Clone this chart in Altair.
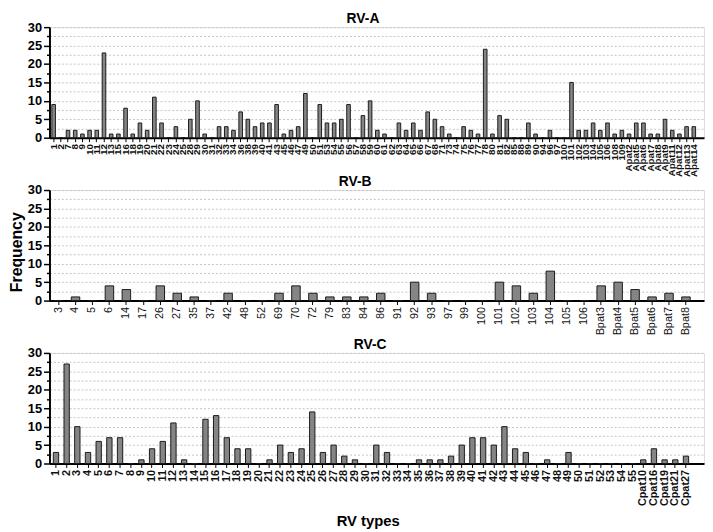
import altair as alt
import pandas as pd

# ---------------- data ----------------
a_types = ["1", "2", "7", "8", "9", "10", "11", "12", "13", "15", "16", "18", "19", "20", "21", "22",
           "23", "24", "25", "28", "29", "30", "31", "32", "33", "34", "36", "38", "39", "40", "41",
           "43", "45", "46", "47", "49", "50", "51", "53", "54", "55", "56", "57", "58", "59", "60",
           "61", "62", "63", "64", "65", "66", "67", "68", "71", "73", "74", "75", "76", "77", "78",
           "80", "81", "82", "85", "88", "89", "90", "94", "96", "97", "100", "101", "102", "103",
           "104", "105", "106", "108", "109", "Apat2", "Apat5", "Apat6", "Apat7", "Apat8", "Apat9",
           "Apat11", "Apat12", "Apat13", "Apat14"]
a_freq = [9, 0, 2, 2, 1, 2, 2, 23, 1, 1,
          8, 1, 4, 2, 11, 4, 0, 3, 0, 5,
          10, 1, 0, 3, 3, 2, 7, 5, 3, 4,
          4, 9, 1, 2, 3, 12, 0, 9, 4, 4,
          5, 9, 0, 6, 10, 2, 1, 0, 4, 2,
          4, 2, 7, 5, 3, 1, 0, 3, 2, 1,
          24, 1, 6, 5, 0, 0, 4, 1, 0, 2,
          0, 0, 15, 2, 2, 4, 2, 4, 1, 2,
          1, 4, 4, 1, 1, 5, 2, 1, 3, 3]

b_types = ["3", "4", "5", "6", "14", "17", "26", "27", "35", "37", "42", "48", "52", "69", "70",
           "72", "79", "83", "84", "86", "91", "92", "93", "97", "99", "100", "101", "102", "103",
           "104", "105", "106", "Bpat3", "Bpat4", "Bpat5", "Bpat6", "Bpat7", "Bpat8"]
b_freq = [0, 1, 0, 4, 3, 0, 4, 2, 1, 0,
          2, 0, 0, 2, 4, 2, 1, 1, 1, 2,
          0, 5, 2, 0, 0, 0, 5, 4, 2, 8,
          0, 0, 4, 5, 3, 1, 2, 1]

c_types = ["1", "2", "3", "4", "5", "6", "7", "8", "9", "10", "11", "12", "13", "14", "15", "16",
           "17", "18", "19", "20", "21", "22", "23", "24", "25", "26", "27", "28", "29", "30",
           "31", "32", "33", "34", "35", "36", "37", "38", "39", "40", "41", "42", "43", "44",
           "45", "46", "47", "48", "49", "50", "51", "52", "53", "54", "55",
           "Cpat10", "Cpat16", "Cpat19", "Cpat21", "Cpat27"]
c_freq = [3, 27, 10, 3, 6, 7, 7, 0, 1, 4,
          6, 11, 1, 0, 12, 13, 7, 4, 4, 0,
          1, 5, 3, 4, 14, 3, 5, 2, 1, 0,
          5, 3, 0, 0, 1, 1, 1, 2, 5, 7,
          7, 5, 10, 4, 3, 0, 1, 0, 3, 0,
          0, 0, 0, 0, 0,
          1, 4, 1, 1, 2]

y_ticks = [0, 2.5, 5, 7.5, 10, 12.5, 15, 17.5, 20, 22.5, 25, 27.5, 30]

# ---------------- style ----------------
FONT = "Liberation Sans"
W = 663
H = 112
BAR = "#858585"
EDGE = "#1a1a1a"


def y_axis():
    return alt.Axis(
        values=y_ticks,
        labelExpr="datum.value % 5 === 0 ? datum.label : ''",
        labelOverlap=False,
        labelFont=FONT, labelFontSize=13, labelFontWeight="bold", labelColor="black",
        labelPadding=2,
        grid=True, gridDash=[2, 2], gridColor="#c4c4c4", gridWidth=1,
        domainColor="black", domainWidth=2,
        tickColor="black", tickWidth=1.5,
        tickSize={"condition": {"test": "datum.value % 5 === 0", "value": 6}, "value": 3},
        title=None,
    )


def panel(types, freq, name, title_frac, pad_outer, align, lab_size, lab_weight, extra=()):
    df = pd.DataFrame({"type": types, "freq": freq})
    bars = alt.Chart(df).mark_bar(fill=BAR, stroke=EDGE, strokeWidth=1).encode(
        x=alt.X(
            "type:N", sort=types, title=None,
            scale=alt.Scale(paddingInner=0.5, paddingOuter=pad_outer, align=align),
            axis=alt.Axis(
                labelAngle=270, labelFont=FONT, labelFontSize=lab_size,
                labelFontWeight=lab_weight, labelColor="#111111", labelPadding=2,
                labelOverlap=False,
                tickColor="black", tickSize=4, tickWidth=1,
                domainColor="black", domainWidth=2, grid=False,
            ),
        ),
        y=alt.Y("freq:Q", title=None,
                scale=alt.Scale(domain=[0, 30], nice=False), axis=y_axis()),
    )
    ttl = alt.Chart(pd.DataFrame({"t": [name]})).mark_text(
        font=FONT, fontSize=14, fontWeight="bold", color="black",
        align="center", baseline="middle",
    ).encode(text="t:N", x=alt.value(title_frac * W), y=alt.value(-8))
    return alt.layer(bars, ttl, *extra).properties(width=W, height=H)


freq_title = alt.Chart(pd.DataFrame({"t": ["Frequency"]})).mark_text(
    font=FONT, fontSize=16, fontWeight="bold", color="black",
    align="center", baseline="middle", angle=270,
).encode(text="t:N", x=alt.value(-33), y=alt.value(63))

xtitle = alt.Chart(pd.DataFrame({"t": ["RV types"]})).mark_text(
    font=FONT, fontSize=15, fontWeight="bold", color="black",
    align="center", baseline="middle",
).encode(text="t:N", x=alt.value(0.487 * W), y=alt.value(H + 58))

pa = panel(a_types, a_freq, "RV-A", 0.479, 0.75, 0.22, 10, "bold")
pb = panel(b_types, b_freq, "RV-B", 0.467, 0.55, 0.26, 11, "normal", extra=(freq_title,))
pc = panel(c_types, c_freq, "RV-C", 0.49, 0.9, 0.2, 11, "bold", extra=(xtitle,))

chart = alt.vconcat(pa, pb, pc, spacing=53, bounds="flush").properties(
    padding={"left": 0, "top": 0, "right": 0, "bottom": 0}
).configure_view(stroke="transparent").configure(font=FONT)

chart.save("out.html", embed_options={"renderer": "svg", "actions": False})
